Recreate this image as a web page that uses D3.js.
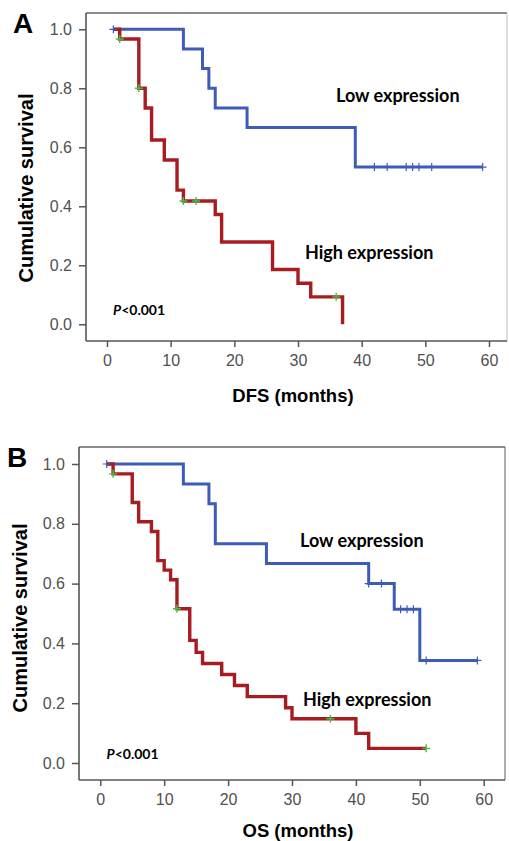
<!DOCTYPE html>
<html>
<head>
<meta charset="utf-8">
<script src="https://cdn.jsdelivr.net/npm/d3@7"></script>
<style>
	body { margin: 0; background: #fff; }
	svg { display: block; }
</style>
</head>
<body>
<svg id="chart"></svg>
<script>
const xTicks = [0, 10, 20, 30, 40, 50, 60];
const yTicks = [0, 0.2, 0.4, 0.6, 0.8, 1.0];

// DFS, low expression: event times and survival after each step
const dfsLowTime = [1, 12, 15, 16, 17, 22, 39];
const dfsLowSurv = [1, 0.933, 0.867, 0.8, 0.733, 0.667, 0.533];
const dfsLowEnd = 59;
const dfsLowCensor = [1, 42, 44, 47, 48, 49, 51, 59];

// DFS, high expression
const dfsHighTime = [1, 2, 5, 6, 7, 9, 11, 12, 17, 18, 26, 30, 32, 37];
const dfsHighSurv = [1, 0.967, 0.8, 0.733, 0.625, 0.557, 0.455, 0.418, 0.372, 0.279, 0.186, 0.139, 0.093, 0];
const dfsHighEnd = 37;
const dfsHighCensor = [2, 5, 12, 14, 36];

// OS, low expression
const osLowTime = [1, 13, 17, 18, 26, 42, 46, 50];
const osLowSurv = [1, 0.933, 0.867, 0.733, 0.667, 0.6, 0.514, 0.343];
const osLowEnd = 59;
const osLowCensor = [1, 42, 44, 47, 48, 49, 51, 59];

// OS, high expression
const osHighTime = [1, 2, 5, 6, 8, 9, 10, 11, 12, 14, 15, 16, 19, 21, 23, 29, 30, 40, 42];
const osHighSurv = [1, 0.967, 0.871, 0.807, 0.774, 0.677, 0.645, 0.613, 0.516, 0.41, 0.37, 0.333, 0.296, 0.259, 0.222, 0.185, 0.148, 0.099, 0.049];
const osHighEnd = 51;
const osHighCensor = [2, 12, 36, 51];

const blue = '#3d5cb8';
const red = '#a81c20';
const green = '#44c044';
const axisColor = '#555';

const svg = d3.select('#chart')
	.attr('width', 509)
	.attr('height', 841);

function steps(times, surv, end) {
	let pts = times.map((t, i) => [t, surv[i]]);
	pts.push([end, surv[surv.length - 1]]);
	return pts;
}

function survAt(times, surv, t) {
	let s = surv[0];
	times.forEach((d, i) => { if (d <= t) s = surv[i]; });
	return s;
}

function drawPanel(p) {
	let g = svg.append('g');

	let scaleX = d3.scaleLinear().domain([0, 60]).range([p.x0, p.x60]);
	let scaleY = d3.scaleLinear().domain([0, 1]).range([p.y0, p.y1]);

	// frame
	g.append('line').attr('x1', p.left).attr('x2', p.right).attr('y1', p.top).attr('y2', p.top)
		.attr('stroke', '#666').attr('stroke-width', 1.3);
	g.append('line').attr('x1', p.right).attr('x2', p.right).attr('y1', p.top).attr('y2', p.bottom)
		.attr('stroke', p.rightColor).attr('stroke-width', 1.2);
	g.append('line').attr('x1', p.left).attr('x2', p.left).attr('y1', p.top).attr('y2', p.bottom)
		.attr('stroke', axisColor).attr('stroke-width', 1.6);
	g.append('line').attr('x1', p.left).attr('x2', p.right).attr('y1', p.bottom).attr('y2', p.bottom)
		.attr('stroke', axisColor).attr('stroke-width', 1.6);

	let yAxis = g.append('g')
		.attr('transform', 'translate(' + p.left + ',0)')
		.call(d3.axisLeft(scaleY).tickValues(yTicks).tickFormat(d3.format('.1f')).tickSize(7).tickPadding(7));
	let xAxis = g.append('g')
		.attr('transform', 'translate(0,' + p.bottom + ')')
		.call(d3.axisBottom(scaleX).tickValues(xTicks).tickSize(6).tickPadding(8));

	[xAxis, yAxis].forEach(a => {
		a.select('.domain').remove();
		a.selectAll('line').attr('stroke', axisColor).attr('stroke-width', 1.5);
		a.selectAll('text')
			.attr('fill', '#505050')
			.style('font-family', 'Arial, "Liberation Sans", sans-serif')
			.style('font-size', '16px');
	});

	let line = d3.line()
		.x(d => scaleX(d[0]))
		.y(d => scaleY(d[1]))
		.curve(d3.curveStepAfter);

	// low expression curve
	g.append('path')
		.datum(steps(p.low.time, p.low.surv, p.low.end))
		.attr('d', line)
		.attr('fill', 'none')
		.attr('stroke', blue)
		.attr('stroke-width', 3);

	// high expression curve
	g.append('path')
		.datum(steps(p.high.time, p.high.surv, p.high.end))
		.attr('d', line)
		.attr('fill', 'none')
		.attr('stroke', red)
		.attr('stroke-width', 3.4);

	// censor marks
	g.selectAll('.cens-low')
		.data(p.low.censor)
		.enter()
		.append('path')
		.attr('d', d => {
			let cx = scaleX(d), cy = scaleY(survAt(p.low.time, p.low.surv, d));
			return 'M' + cx + ',' + (cy - 4) + 'V' + (cy + 4) + 'M' + (cx - 4) + ',' + cy + 'H' + (cx + 4);
		})
		.attr('stroke', blue)
		.attr('stroke-width', 1.2);

	g.selectAll('.cens-high')
		.data(p.high.censor)
		.enter()
		.append('path')
		.attr('d', d => {
			let cx = scaleX(d), cy = scaleY(survAt(p.high.time, p.high.surv, d));
			return 'M' + cx + ',' + (cy - 4) + 'V' + (cy + 4) + 'M' + (cx - 4) + ',' + cy + 'H' + (cx + 4);
		})
		.attr('stroke', green)
		.attr('stroke-width', 1.4);

	// panel letter
	g.append('text')
		.attr('x', p.letterX).attr('y', p.letterY)
		.text(p.letter)
		.style('font-family', 'Arial, "Liberation Sans", sans-serif')
		.style('font-weight', 'bold')
		.style('font-size', '28px');

	// axis titles
	g.append('text')
		.attr('transform', 'translate(' + p.yTitleX + ',' + p.yTitleY + ') rotate(-90)')
		.attr('text-anchor', 'middle')
		.text('Cumulative survival')
		.style('font-family', 'Arial, "Liberation Sans", sans-serif')
		.style('font-weight', 'bold')
		.style('font-size', '20px');

	g.append('text')
		.attr('x', p.xTitleX).attr('y', p.xTitleY)
		.attr('text-anchor', 'middle')
		.text(p.xTitle)
		.style('font-family', 'Arial, "Liberation Sans", sans-serif')
		.style('font-weight', 'bold')
		.style('font-size', '18.5px');

	// curve labels
	let labelFont = 'Lato, "Open Sans", sans-serif';
	g.append('text')
		.attr('x', p.lowLabel[0]).attr('y', p.lowLabel[1])
		.text('Low expression')
		.style('font-family', labelFont).style('font-weight', 'bold').style('font-size', '18px');
	g.append('text')
		.attr('x', p.highLabel[0]).attr('y', p.highLabel[1])
		.text('High expression')
		.style('font-family', labelFont).style('font-weight', 'bold').style('font-size', '18px');

	let pText = g.append('text')
		.attr('x', p.pLabel[0]).attr('y', p.pLabel[1])
		.style('font-family', labelFont).style('font-weight', 'bold').style('font-size', '14px');
	pText.append('tspan').style('font-style', 'italic').text('P');
	pText.append('tspan').text('<0.001');
}

drawPanel({
	left: 86, right: 507, top: 13, bottom: 341, rightColor: '#ccc',
	x0: 107, x60: 489, y0: 324.3, y1: 29.3,
	letter: 'A', letterX: 13, letterY: 33,
	yTitleX: 33, yTitleY: 188,
	xTitle: 'DFS (months)', xTitleX: 293, xTitleY: 402,
	lowLabel: [336, 102], highLabel: [305, 259], pLabel: [113, 315],
	low: { time: dfsLowTime, surv: dfsLowSurv, end: dfsLowEnd, censor: dfsLowCensor },
	high: { time: dfsHighTime, surv: dfsHighSurv, end: dfsHighEnd, censor: dfsHighCensor }
});

drawPanel({
	left: 79, right: 505, top: 447, bottom: 780, rightColor: '#777',
	x0: 100.3, x60: 483.7, y0: 763, y1: 464,
	letter: 'B', letterX: 7, letterY: 467,
	yTitleX: 27, yTitleY: 618,
	xTitle: 'OS (months)', xTitleX: 298, xTitleY: 837,
	lowLabel: [300, 547], highLabel: [303, 706], pLabel: [106.5, 759],
	low: { time: osLowTime, surv: osLowSurv, end: osLowEnd, censor: osLowCensor },
	high: { time: osHighTime, surv: osHighSurv, end: osHighEnd, censor: osHighCensor }
});
</script>
</body>
</html>
